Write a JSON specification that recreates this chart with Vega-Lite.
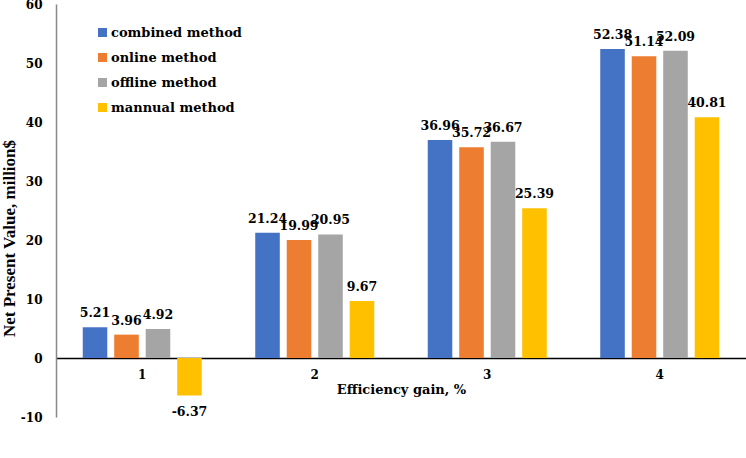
{
  "$schema": "https://vega.github.io/schema/vega-lite/v6.json",
  "autosize": "none",
  "width": 690,
  "height": 413,
  "padding": {"left": 56, "top": 4, "right": 0, "bottom": 41},
  "background": "white",
  "data": {
    "values": [
      {"gain": "1", "method": "combined method", "value": 5.21},
      {"gain": "1", "method": "online method", "value": 3.96},
      {"gain": "1", "method": "offline method", "value": 4.92},
      {"gain": "1", "method": "mannual method", "value": -6.37},
      {"gain": "2", "method": "combined method", "value": 21.24},
      {"gain": "2", "method": "online method", "value": 19.99},
      {"gain": "2", "method": "offline method", "value": 20.95},
      {"gain": "2", "method": "mannual method", "value": 9.67},
      {"gain": "3", "method": "combined method", "value": 36.96},
      {"gain": "3", "method": "online method", "value": 35.72},
      {"gain": "3", "method": "offline method", "value": 36.67},
      {"gain": "3", "method": "mannual method", "value": 25.39},
      {"gain": "4", "method": "combined method", "value": 52.38},
      {"gain": "4", "method": "online method", "value": 51.14},
      {"gain": "4", "method": "offline method", "value": 52.09},
      {"gain": "4", "method": "mannual method", "value": 40.81}
    ]
  },
  "config": {
    "view": {"stroke": null},
    "axis": {"grid": false, "ticks": false}
  },
  "transform": [
    {"calculate": "replace(format(datum.value, '.2f'), '\u2212', '-')", "as": "label"}
  ],
  "encoding": {
    "x": {
      "field": "gain",
      "type": "nominal",
      "scale": {"paddingInner": 0.31, "paddingOuter": 0.155},
      "axis": {
        "title": "Efficiency gain, %",
        "labelAngle": 0,
        "offset": -59,
        "domainColor": "black",
        "domainWidth": 1.5,
        "labelFont": "DejaVu Serif",
        "labelFontWeight": "bold",
        "labelFontSize": 12,
        "labelColor": "black",
        "labelPadding": 11,
        "titleFont": "DejaVu Serif",
        "titleFontWeight": "bold",
        "titleFontSize": 13,
        "titleColor": "black",
        "titlePadding": 3
      }
    },
    "xOffset": {
      "field": "method",
      "type": "nominal",
      "sort": ["combined method", "online method", "offline method", "mannual method"],
      "scale": {"paddingInner": 0.22}
    },
    "y": {
      "field": "value",
      "type": "quantitative",
      "scale": {"domain": [-10, 60], "nice": false},
      "axis": {
        "title": "Net Present Value, million$",
        "values": [-10, 0, 10, 20, 30, 40, 50, 60],
        "labelExpr": "toString(datum.value)",
        "domainColor": "#888888",
        "domainWidth": 1.5,
        "labelFont": "DejaVu Serif",
        "labelFontWeight": "bold",
        "labelFontSize": 12,
        "labelColor": "black",
        "labelPadding": 14,
        "titleFont": "Liberation Serif",
        "titleFontWeight": "bold",
        "titleFontSize": 17,
        "titleColor": "black",
        "titlePadding": 2,
        "titleY": 234
      }
    }
  },
  "layer": [
    {
      "mark": {"type": "bar"},
      "encoding": {
        "color": {
          "field": "method",
          "type": "nominal",
          "sort": ["combined method", "online method", "offline method", "mannual method"],
          "scale": {
            "domain": ["combined method", "online method", "offline method", "mannual method"],
            "range": ["#4472C4", "#ED7D31", "#A5A5A5", "#FFC000"]
          },
          "legend": {
            "title": null,
            "orient": "none",
            "legendX": 40,
            "legendY": 22,
            "padding": 0,
            "symbolType": "square",
            "symbolSize": 81,
            "symbolStrokeWidth": 0,
            "labelFont": "DejaVu Serif",
            "labelFontWeight": "bold",
            "labelFontSize": 13,
            "labelColor": "black",
            "labelOffset": 2,
            "rowPadding": 11
          }
        }
      }
    },
    {
      "transform": [{"filter": "datum.value >= 0"}],
      "mark": {
        "type": "text",
        "baseline": "alphabetic",
        "dy": -10,
        "font": "DejaVu Serif",
        "fontWeight": "bold",
        "fontSize": 12.5,
        "color": "black"
      },
      "encoding": {"text": {"field": "label", "type": "nominal"}}
    },
    {
      "transform": [{"filter": "datum.value < 0"}],
      "mark": {
        "type": "text",
        "baseline": "top",
        "dy": 10,
        "font": "DejaVu Serif",
        "fontWeight": "bold",
        "fontSize": 12.5,
        "color": "black"
      },
      "encoding": {"text": {"field": "label", "type": "nominal"}}
    }
  ]
}
